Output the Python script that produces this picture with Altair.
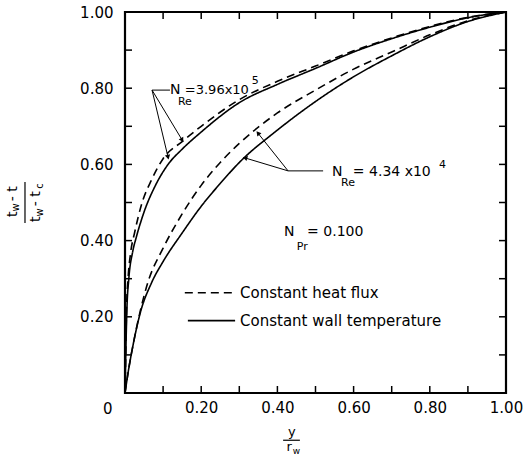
import altair as alt
import pandas as pd
import numpy as np

FONT = "DejaVu Sans"

# ---- curve data (y/r_w , (tw-t)/(tw-tc)) ----
# N_Re = 3.96e5
hi_wall_x = [0, 0.002, 0.005, 0.01, 0.02, 0.03, 0.05, 0.08, 0.113, 0.15, 0.2, 0.3, 0.4, 0.5, 0.6, 0.7, 0.8, 0.9, 1.0]
hi_wall_y = [0, 0.10, 0.22, 0.30, 0.37, 0.41, 0.475, 0.545, 0.60, 0.64, 0.685, 0.762, 0.81, 0.852, 0.895, 0.93, 0.96, 0.985, 1.0]
hi_flux_x = [0, 0.002, 0.004, 0.008, 0.015, 0.025, 0.045, 0.07, 0.10, 0.15, 0.2, 0.3, 0.4, 0.5, 0.6, 0.7, 0.8, 0.9, 1.0]
hi_flux_y = [0, 0.10, 0.22, 0.30, 0.37, 0.42, 0.50, 0.56, 0.615, 0.66, 0.70, 0.77, 0.818, 0.858, 0.898, 0.932, 0.962, 0.986, 1.0]
# N_Re = 4.34e4
lo_wall_x = [0, 0.01, 0.02, 0.04, 0.07, 0.10, 0.15, 0.20, 0.25, 0.30, 0.40, 0.50, 0.60, 0.70, 0.80, 0.90, 1.0]
lo_wall_y = [0, 0.065, 0.12, 0.21, 0.29, 0.345, 0.42, 0.49, 0.55, 0.605, 0.69, 0.765, 0.83, 0.885, 0.935, 0.975, 1.0]
lo_flux_x = [0, 0.01, 0.02, 0.04, 0.06, 0.10, 0.15, 0.20, 0.25, 0.30, 0.40, 0.50, 0.60, 0.70, 0.80, 0.90, 1.0]
lo_flux_y = [0, 0.065, 0.12, 0.215, 0.29, 0.38, 0.47, 0.545, 0.605, 0.655, 0.735, 0.795, 0.85, 0.895, 0.94, 0.977, 1.0]

tick_pos = [0.1, 0.2, 0.3, 0.4, 0.5, 0.6, 0.7, 0.8, 0.9]
label_vals = [0.2, 0.4, 0.6, 0.8, 1.0]

# annotation leader lines
lead_x1 = [0.071, 0.071, 0.071, 0.428, 0.428, 0.428]
lead_y1 = [0.795, 0.795, 0.795, 0.583, 0.583, 0.583]
lead_x2 = [0.118, 0.113, 0.150, 0.520, 0.349, 0.315]
lead_y2 = [0.795, 0.619, 0.664, 0.583, 0.682, 0.617]
lead_head = [False, True, True, False, True, True]

# inline texts (left aligned)
note_text = ["N", "Re", "=3.96x10", "5",
             "N", "Re", "= 4.34 x10", "4",
             "N", "Pr", "= 0.100",
             "Constant heat flux", "Constant wall temperature"]
note_x = [0.118, 0.139, 0.157, 0.333,
          0.543, 0.567, 0.598, 0.824,
          0.417, 0.451, 0.478,
          0.302, 0.302]
note_y = [0.795, 0.764, 0.795, 0.819,
          0.580, 0.551, 0.580, 0.598,
          0.423, 0.383, 0.423,
          0.263, 0.190]
note_size = [14, 11, 13, 11,
             14, 11, 14, 11,
             14, 11, 14,
             15, 15]

# legend sample lines
leg_x1 = [0.157, 0.165]
leg_x2 = [0.289, 0.289]
leg_y = [0.263, 0.190]
leg_style = ["dashed", "solid"]

# axis titles (fractions) and the shared origin label
ttl_text = ["0", "y", "r", "w", "t", "w", "- t", "t", "w", "- t", "c"]
ttl_x = [-0.045, 0.438, 0.431, 0.450, -0.294, -0.2861, -0.294, -0.2336, -0.2231, -0.2336, -0.2231]
ttl_y = [-0.042, -0.102, -0.142, -0.152, 0.469, 0.487, 0.523, 0.456, 0.474, 0.510, 0.543]
ttl_size = [15, 13, 13, 9, 14, 10, 14, 14, 10, 14, 10]
ttl_angle = [0, 0, 0, 0, 270, 270, 270, 270, 270, 270, 270]
bar_x1 = [0.415, -0.2625]
bar_x2 = [0.459, -0.2625]
bar_y1 = [-0.124, 0.446]
bar_y2 = [-0.124, 0.554]

# ---- build tables ----
rows = []
for name, xs_, ys_, style in [("hi_wall", hi_wall_x, hi_wall_y, "solid"),
                              ("hi_flux", hi_flux_x, hi_flux_y, "dashed"),
                              ("lo_wall", lo_wall_x, lo_wall_y, "solid"),
                              ("lo_flux", lo_flux_x, lo_flux_y, "dashed")]:
    for i, (a, b) in enumerate(zip(xs_, ys_)):
        rows.append({"X": a, "Y": b, "series": name, "style": style, "i": i})
curves = pd.DataFrame(rows)

leads = pd.DataFrame({"x1": lead_x1, "y1": lead_y1, "x2": lead_x2, "y2": lead_y2, "head": lead_head})
heads = leads[leads["head"]].copy()
heads["ang"] = (np.degrees(np.arctan2(heads["x2"] - heads["x1"], heads["y2"] - heads["y1"])) + 360) % 360

notes = pd.DataFrame({"x": note_x, "y": note_y, "t": note_text, "s": note_size})
legs = pd.DataFrame({"x1": leg_x1, "x2": leg_x2, "y": leg_y, "style": leg_style})
ttls = pd.DataFrame({"x": ttl_x, "y": ttl_y, "t": ttl_text, "s": ttl_size, "a": ttl_angle})
bars = pd.DataFrame({"x1": bar_x1, "x2": bar_x2, "y1": bar_y1, "y2": bar_y2})
ticks = pd.DataFrame({"p": tick_pos})

xs = alt.Scale(domain=[0, 1], nice=False, zero=False)
ys = alt.Scale(domain=[0, 1], nice=False, zero=False)

x_axis = alt.Axis(values=label_vals, format=".2f", title=None, grid=False, ticks=False, tickSize=0,
                  domain=False, labelFont=FONT, labelFontSize=15, labelPadding=7,
                  labelFlush=False, labelColor="black")
y_axis = alt.Axis(values=label_vals, format=".2f", title=None, grid=False, ticks=False, tickSize=0,
                  domain=False, labelFont=FONT, labelFontSize=15, labelPadding=12,
                  labelColor="black")

dash_scale = alt.Scale(domain=["dashed", "solid"], range=[[8, 5], [1, 0]])

lines = alt.Chart(curves).mark_line(color="black", strokeWidth=1.6, interpolate="monotone").encode(
    x=alt.X("X:Q", scale=xs, axis=x_axis),
    y=alt.Y("Y:Q", scale=ys, axis=y_axis),
    detail="series:N",
    order="i:Q",
    strokeDash=alt.StrokeDash("style:N", scale=dash_scale, legend=None),
)

tick_b = alt.Chart(ticks).mark_rule(color="black", strokeWidth=1.5).encode(
    x=alt.X("p:Q", scale=xs), y=alt.value(381), y2=alt.value(374))
tick_t = alt.Chart(ticks).mark_rule(color="black", strokeWidth=1.5).encode(
    x=alt.X("p:Q", scale=xs), y=alt.value(0), y2=alt.value(7))
tick_l = alt.Chart(ticks).mark_rule(color="black", strokeWidth=1.5).encode(
    y=alt.Y("p:Q", scale=ys), x=alt.value(0), x2=alt.value(7))
tick_r = alt.Chart(ticks).mark_rule(color="black", strokeWidth=1.5).encode(
    y=alt.Y("p:Q", scale=ys), x=alt.value(381), x2=alt.value(374))

lead_lines = alt.Chart(leads).mark_rule(color="black", strokeWidth=1).encode(
    x=alt.X("x1:Q", scale=xs), y=alt.Y("y1:Q", scale=ys), x2="x2:Q", y2="y2:Q")
lead_heads = alt.Chart(heads).mark_point(shape="triangle-up", filled=True, color="black",
                                          size=28, opacity=1).encode(
    x=alt.X("x2:Q", scale=xs), y=alt.Y("y2:Q", scale=ys), angle=alt.Angle("ang:Q", scale=None))

note_marks = alt.Chart(notes).mark_text(align="left", baseline="middle", font=FONT, color="black").encode(
    x=alt.X("x:Q", scale=xs), y=alt.Y("y:Q", scale=ys), text="t:N", size=alt.Size("s:Q", scale=None))

leg_lines = alt.Chart(legs).mark_rule(color="black", strokeWidth=1.6).encode(
    x=alt.X("x1:Q", scale=xs), x2="x2:Q", y=alt.Y("y:Q", scale=ys),
    strokeDash=alt.StrokeDash("style:N", scale=dash_scale, legend=None))

ttl_marks = alt.Chart(ttls).mark_text(align="center", baseline="middle", font=FONT, color="black").encode(
    x=alt.X("x:Q", scale=xs), y=alt.Y("y:Q", scale=ys), text="t:N",
    size=alt.Size("s:Q", scale=None), angle=alt.Angle("a:Q", scale=None))

bar_marks = alt.Chart(bars).mark_rule(color="black", strokeWidth=1.2).encode(
    x=alt.X("x1:Q", scale=xs), x2="x2:Q", y=alt.Y("y1:Q", scale=ys), y2="y2:Q")

chart = alt.layer(
    lines, tick_b, tick_t, tick_l, tick_r, lead_lines, lead_heads, note_marks, leg_lines, ttl_marks, bar_marks
).properties(
    width=381, height=381,
    autosize=alt.AutoSizeParams(type="none"),
    padding={"left": 125, "top": 12, "right": 18, "bottom": 64},
    background="white",
).configure_view(stroke="black", strokeWidth=2.2)

chart.save("out.html", embed_options={"renderer": "svg", "actions": False})
